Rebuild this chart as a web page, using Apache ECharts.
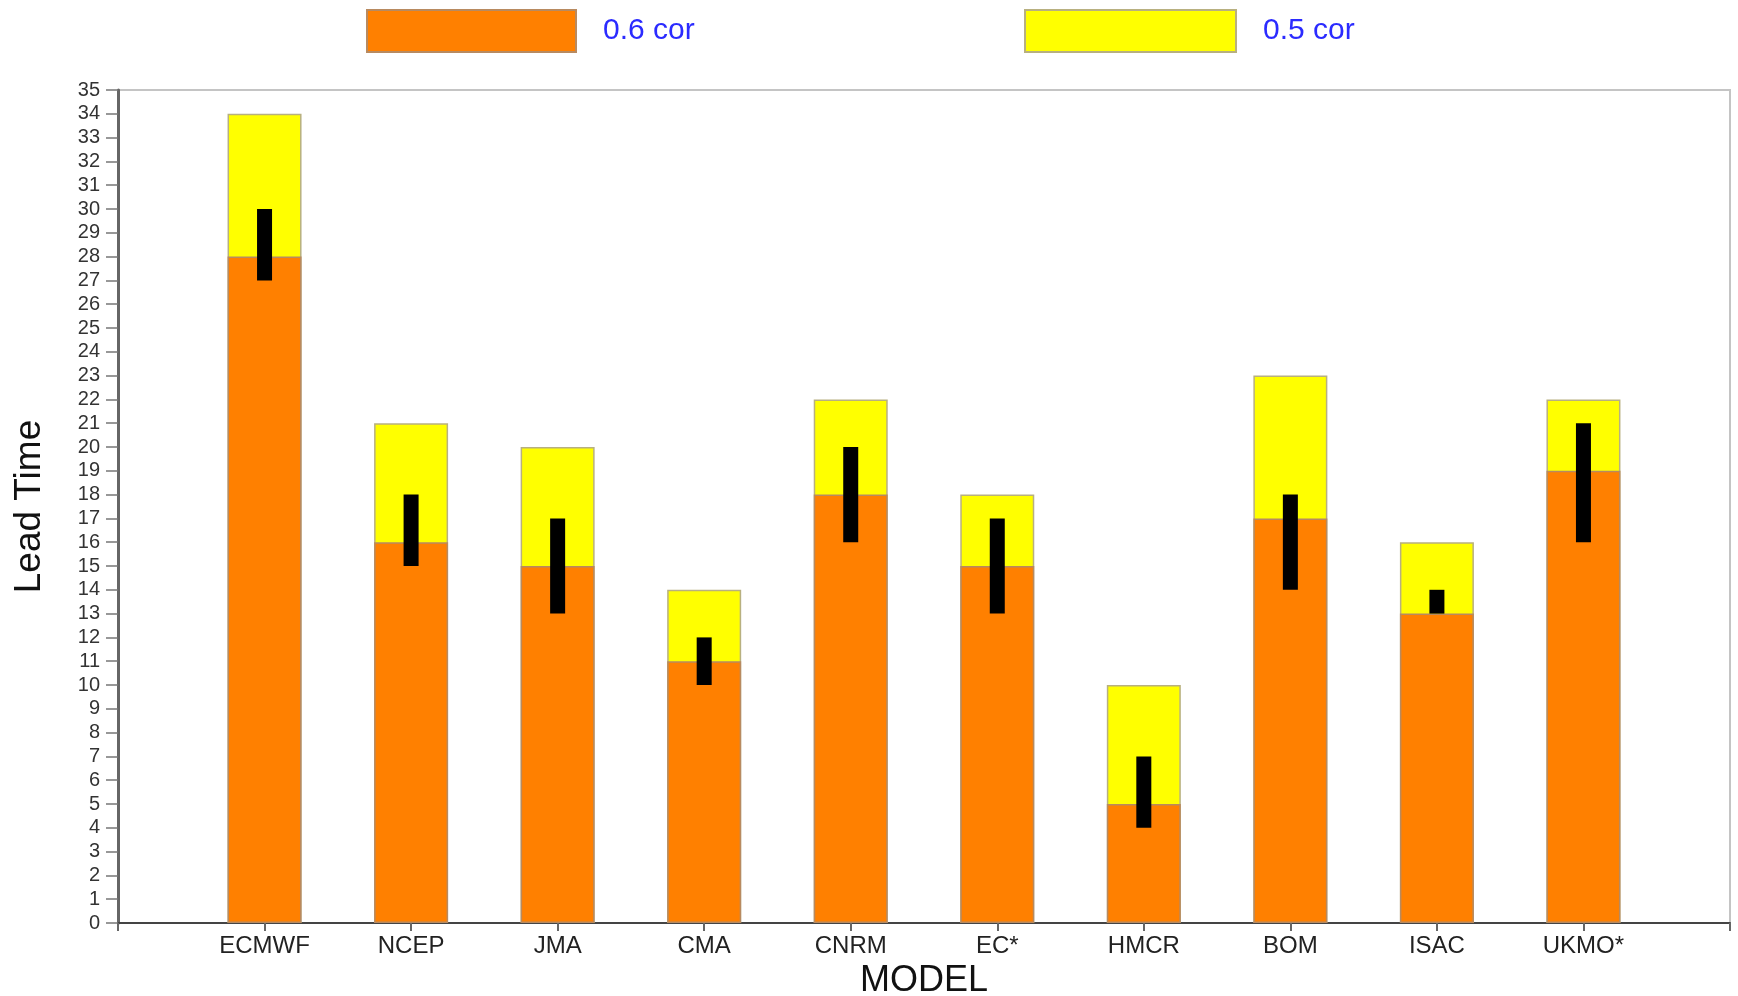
<!DOCTYPE html>
<html>
<head>
<meta charset="utf-8">
<script src="https://cdn.jsdelivr.net/npm/echarts@6/dist/echarts.min.js"></script>
<style>
html,body{margin:0;padding:0;background:#fff;}
#chart{width:1738px;height:996px;}
</style>
</head>
<body>
<div id="chart"></div>
<script>
// Data
var categories = ['ECMWF', 'NCEP', 'JMA', 'CMA', 'CNRM', 'EC*', 'HMCR', 'BOM', 'ISAC', 'UKMO*'];
var cor06 = [28, 16, 15, 11, 18, 15, 5, 17, 13, 19];      // 0.6 cor (orange)
var cor05 = [34, 21, 20, 14, 22, 18, 10, 23, 16, 22];     // 0.5 cor (yellow)
var rangeLow = [27, 15, 13, 10, 16, 13, 4, 14, 13, 16];   // black bar bottom
var rangeHigh = [30, 18, 17, 12, 20, 17, 7, 18, 14, 21];  // black bar top

var pos = categories.map(function (c, i) { return i + 1; });
var yellowData = cor05.map(function (v, i) { return [pos[i], v]; });
var orangeData = cor06.map(function (v, i) { return [pos[i], v]; });
var rangeData = rangeLow.map(function (v, i) { return [pos[i], v, rangeHigh[i]]; });

var FONT = 'Liberation Sans, Arial, sans-serif';

var chart = echarts.init(document.getElementById('chart'));
chart.setOption({
  backgroundColor: '#ffffff',
  animation: false,
  grid: {
    left: 118, right: 8, top: 90, bottom: 73,
    outerBoundsMode: 'none', containLabel: false,
    show: true, borderColor: '#c4c4c4', borderWidth: 2, backgroundColor: 'transparent'
  },
  legend: [
    {
      left: 366, top: 9, padding: 0, itemWidth: 209, itemHeight: 42, icon: 'rect',
      data: ['0.6 cor'], selectedMode: false,
      textStyle: { color: '#2b2bff', fontSize: 30, fontFamily: FONT, padding: [0, 0, 0, 22] }
    },
    {
      left: 1024, top: 9, padding: 0, itemWidth: 211, itemHeight: 42, icon: 'rect',
      data: ['0.5 cor'], selectedMode: false,
      textStyle: { color: '#2b2bff', fontSize: 30, fontFamily: FONT, padding: [0, 0, 0, 22] }
    }
  ],
  xAxis: {
    type: 'value', min: 0, max: categories.length + 1, interval: 1,
    name: 'MODEL', nameLocation: 'middle', nameGap: 34,
    nameTextStyle: { fontSize: 36, color: '#111', fontFamily: FONT },
    axisLine: { show: true, lineStyle: { color: '#444', width: 2 } },
    axisTick: { show: true, inside: false, length: 8, lineStyle: { color: '#666', width: 2 } },
    axisLabel: {
      fontSize: 24, color: '#222', fontFamily: FONT, margin: 11,
      showMinLabel: true, showMaxLabel: true,
      formatter: function (v) {
        var i = Math.round(v) - 1;
        return (i >= 0 && i < categories.length) ? categories[i] : '';
      }
    },
    splitLine: { show: false }
  },
  yAxis: {
    type: 'value', min: 0, max: 35, interval: 1,
    name: 'Lead Time', nameLocation: 'middle', nameGap: 70, nameRotate: 90,
    nameTextStyle: { fontSize: 37, color: '#111', fontFamily: FONT },
    axisLine: { show: true, lineStyle: { color: '#666', width: 3 } },
    axisTick: { show: true, inside: false, length: 12, lineStyle: { color: '#777', width: 1.5 } },
    axisLabel: { fontSize: 20, color: '#333', fontFamily: FONT, margin: 18 },
    splitLine: { show: false }
  },
  series: [
    {
      name: '0.5 cor', type: 'bar', data: yellowData, barWidth: 74, barGap: '-100%',
      itemStyle: { color: '#ffff00', borderColor: '#b8b080', borderWidth: 1.5 }
    },
    {
      name: '0.6 cor', type: 'bar', data: orangeData, barWidth: 74, barGap: '-100%',
      itemStyle: { color: '#ff8000', borderColor: '#b88a60', borderWidth: 1.5 }
    },
    {
      name: 'range', type: 'custom', data: rangeData,
      encode: { x: 0, y: [1, 2] }, z: 5,
      renderItem: function (params, api) {
        var x = api.value(0);
        var p1 = api.coord([x, api.value(1)]);
        var p2 = api.coord([x, api.value(2)]);
        var w = 15;
        return {
          type: 'rect',
          shape: { x: p1[0] - w / 2, y: p2[1], width: w, height: p1[1] - p2[1] },
          style: { fill: '#000000' }
        };
      }
    }
  ]
});
</script>
</body>
</html>
